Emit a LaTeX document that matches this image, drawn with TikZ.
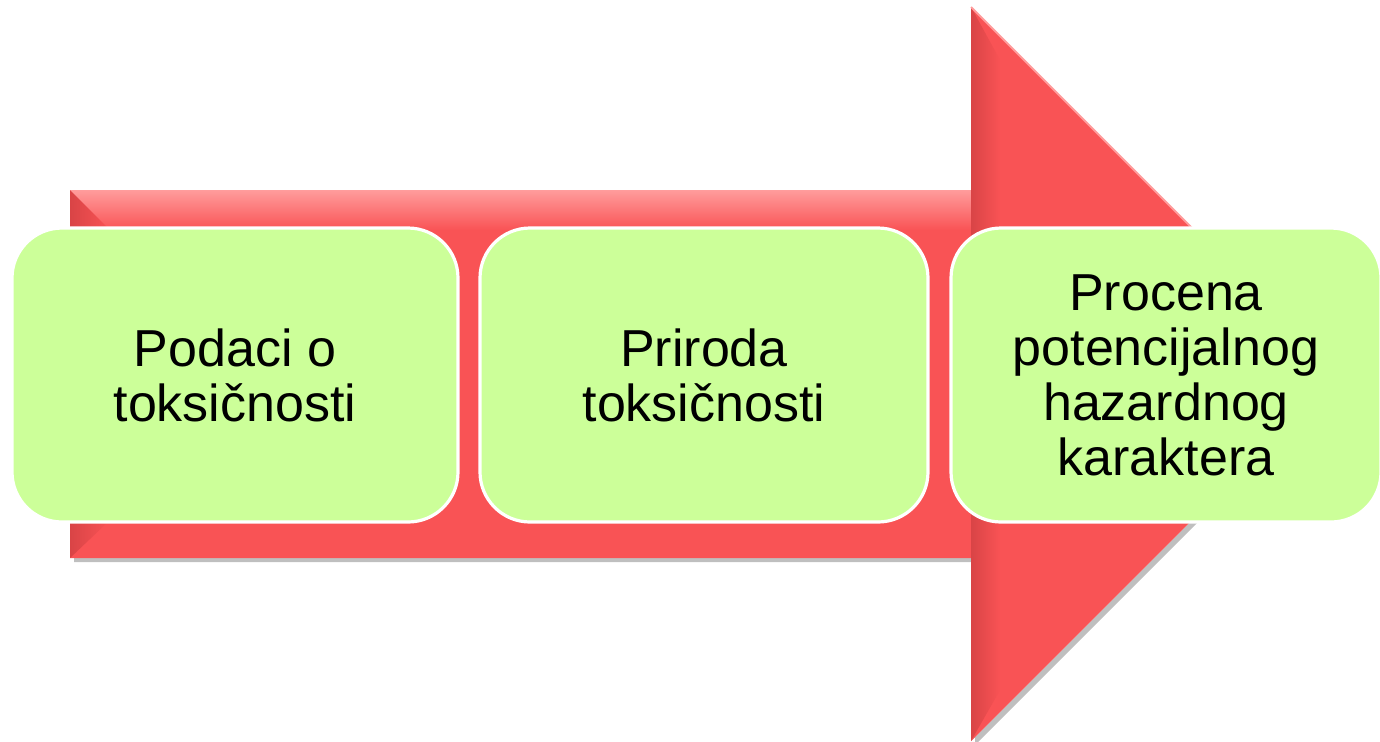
\documentclass[tikz,border=0pt]{standalone}
\usepackage{fontspec}
\setmainfont{Liberation Sans}
\definecolor{arrowred}{HTML}{F95355}
\definecolor{arrowlight}{HTML}{FF9C9C}
\definecolor{arrowdark}{HTML}{D94446}
\definecolor{stagegreen}{HTML}{CCFF99}
\begin{document}
\begin{tikzpicture}[x=0.5pt, y=-0.5pt,
  stage/.style={rectangle, rounded corners=25pt, draw=white, line width=1.6pt,
    fill=stagegreen, minimum height=147pt, align=center, inner sep=0pt,
    font=\fontsize{26}{27.5}\selectfont}]
	\useasboundingbox (0,0) rectangle (1380,741);
	
	% big arrow behind the boxes
	\fill[black!25] (74,562) -- (975,562) -- (975,745) -- (1342,378) -- (1338,374) -- (971,741) -- (971,558) -- (74,558) -- cycle;
	\fill[arrowred] (70,190) -- (971,190) -- (971,7) -- (1338,374) -- (971,741) -- (971,558) -- (70,558) -- cycle;
	\shade[top color=arrowlight, bottom color=arrowred] (70,190) rectangle (971,230);
	\shade[left color=arrowdark, right color=arrowred] (70,190) -- (110,230) -- (110,520) -- (70,558) -- cycle;
	\shade[left color=arrowdark, right color=arrowred] (971,7) -- (1000,60) -- (1000,690) -- (971,741) -- cycle;
	\draw[arrowlight, line width=1pt] (971,7) -- (1338,374);
	
	% stages
	\node[stage, minimum width=223pt] (podaci) at (235,375) {Podaci o\\toksičnosti};
	\node[stage, minimum width=224pt] (priroda) at (704,375) {Priroda\\toksičnosti};
	\node[stage, minimum width=215pt] (procena) at (1166,375) {Procena\\potencijalnog\\hazardnog\\karaktera};
\end{tikzpicture}
\end{document}
